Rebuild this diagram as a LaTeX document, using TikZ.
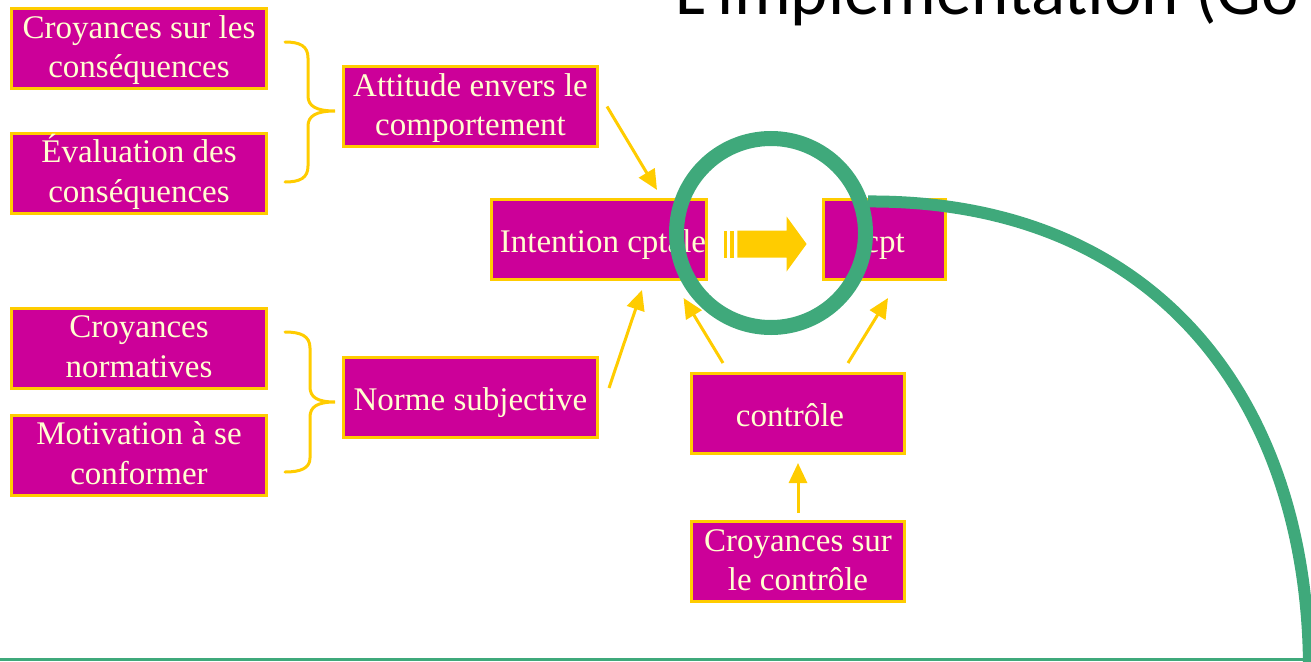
\documentclass[tikz,border=0pt]{standalone}
\usepackage{fontspec}
\setmainfont{Liberation Serif}
\newfontfamily\titlefont{Carlito}
\usetikzlibrary{arrows.meta,calc}

\definecolor{mag}{HTML}{CC0099}
\definecolor{yel}{HTML}{FFCC00}
\definecolor{cream}{HTML}{FFFFD0}
\definecolor{grn}{HTML}{3FA97B}

% box label: centred lines, lowered a little inside the box
\newcommand{\bxtext}[2][-5.5pt]{\raisebox{#1}[\height][\depth]{\begin{tabular}{@{}c@{}}#2\end{tabular}}}

\tikzset{
  box/.style={draw=yel, line width=3pt, fill=mag, text=cream,
    inner sep=0pt, minimum height=80pt,
    font=\fontsize{33}{39.5}\selectfont},
  arr/.style={draw=yel, line width=3pt, -{Triangle[width=18pt,length=20pt]}},
  curly/.style={draw=yel, line width=3pt, line cap=round},
}

\begin{document}
\begin{tikzpicture}[x=1pt,y=-1pt]
\useasboundingbox (0,0) rectangle (1311,661);
\clip (0,0) rectangle (1311,661);

% slide title, cut by the frame
\node[anchor=base west, inner sep=0pt, font=\titlefont\fontsize{71}{85}\selectfont]
  (title) at (675,15) {L’implémentation (Go};

% boxes
\node[box, minimum width=255pt] (b1)   at (139,48.5)   {\bxtext[-1.5pt]{Croyances sur les\\conséquences}};
\node[box, minimum width=255pt] (b2)   at (139,173)    {\bxtext[-1.5pt]{Évaluation des\\conséquences}};
\node[box, minimum width=254pt] (att)  at (470.5,106.5){\bxtext[-1.5pt]{Attitude envers le\\comportement}};
\node[box, minimum width=213pt] (int)  at (599,239.5)  {\bxtext{\hspace*{8pt}Intention cptale}};
\node[box, minimum width=122pt] (cpt)  at (884.5,239.5){\bxtext{cpt}};
\node[box, minimum width=255pt] (b3)   at (139,348)    {\bxtext[-1.5pt]{Croyances\\normatives}};
\node[box, minimum width=255pt] (b4)   at (139,455)    {\bxtext[-1.5pt]{Motivation à se\\conformer}};
\node[box, minimum width=254pt] (norm) at (470.5,397)  {\bxtext{Norme subjective}};
\node[box, minimum width=213pt] (ctl)  at (798,413.5)  {\bxtext{contrôle\hspace*{16pt}}};
\node[box, minimum width=213pt] (cctl) at (798,561.5)  {\bxtext[-1.5pt]{Croyances sur\\le contrôle}};

% braces grouping the belief boxes
\draw[curly] (285,42) .. controls (300,42) and (308,46) .. (308,58) -- (308,96)
  .. controls (308,106) and (316,111) .. (335,111)
  .. controls (316,111) and (308,116) .. (308,126) -- (308,166)
  .. controls (308,178) and (300,182) .. (285,182);
\draw[curly] (285,332) .. controls (301,332) and (310,336) .. (310,348) -- (310,387)
  .. controls (310,397) and (317,402) .. (335,402)
  .. controls (317,402) and (310,407) .. (310,417) -- (310,458)
  .. controls (310,468) and (301,472) .. (285,472);

% arrows
\draw[arr] ([shift={(8,0)}]att.east) -- ([shift={(58,-8)}]int.north);
\draw[arr] ([shift={(10,-9)}]norm.east) -- ([shift={(43,9)}]int.south);
\draw[arr] ([shift={(-75,-9)}]ctl.north) -- ([shift={(-24,17)}]int.south east);
\draw[arr] ([shift={(50,-9)}]ctl.north) -- ([shift={(3.5,17)}]cpt.south);
\draw[arr] ([shift={(0,-7)}]cctl.north) -- ([shift={(0,8)}]ctl.south);

% striped block arrow from intention to behaviour
\begin{scope}[shift={(int.east)}]
  \fill[yel] (16.3,-9) rectangle (19.7,18);
  \fill[yel] (22.3,-9) rectangle (26.3,18);
  \fill[yel] (29.7,-9) -- (79,-9) -- (79,-23) -- (99,4.5) -- (79,32) -- (79,18)
    -- (29.7,18) -- cycle;
\end{scope}

% green highlight ring and sweep
\node[circle, draw=grn, line width=15pt, minimum size=189pt, inner sep=0pt]
  (ring) at (771,233) {};
\coordinate (sweepEnd) at (1309,668);
\draw[grn, line width=12pt] (ring.18) .. controls (1160,200) and (1308,405) .. (sweepEnd);

% bottom rule
\draw[grn, line width=3pt] (0,659.5) -- (1311,659.5);
\end{tikzpicture}
\end{document}
